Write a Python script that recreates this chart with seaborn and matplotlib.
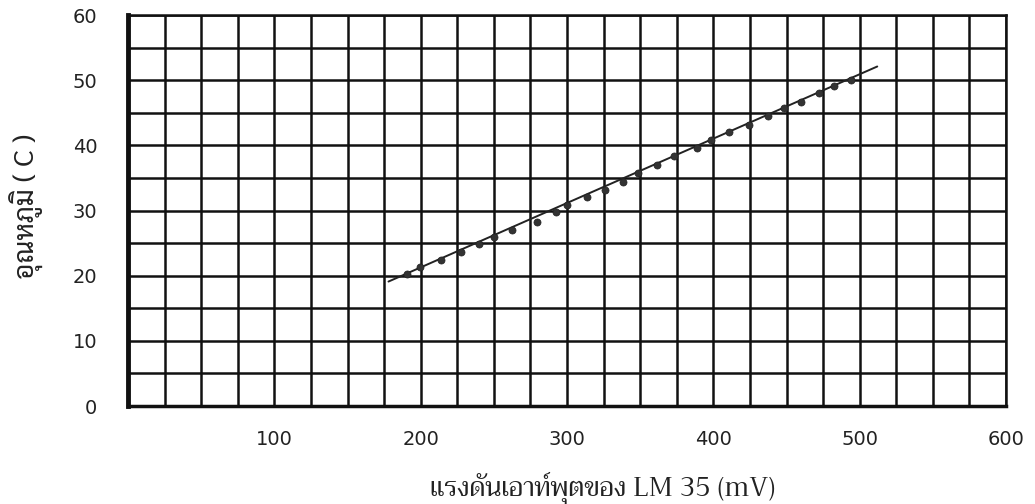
import numpy as np
import matplotlib
matplotlib.use("Agg")
import matplotlib.pyplot as plt
import seaborn as sns
import pandas as pd

################################################
#  data
################################################
voltage_mv = [190.4, 199.5, 213.9, 227.6, 239.9, 250.3, 262.2, 279.3, 292.3,
              299.8, 313.9, 326.0, 338.5, 348.3, 361.3, 373.3, 388.6, 398.4,
              410.7, 424.4, 437.1, 448.5, 459.7, 472.4, 482.7, 493.9]
temp_c = [20.25, 21.4, 22.4, 23.7, 24.9, 26.0, 27.0, 28.3, 29.8,
          30.8, 32.0, 33.1, 34.4, 35.7, 37.0, 38.3, 39.6, 40.8,
          42.1, 43.2, 44.5, 45.8, 46.7, 48.0, 49.1, 50.1]
# end points of the drawn straight line
fit_mv = [178, 512]
fit_temp = [19.1, 52.1]

xticks = [100, 200, 300, 400, 500, 600]
yticks = [0, 10, 20, 30, 40, 50, 60]

xlabel = "แรงดันเอาท์พุตของ LM 35 (mV)"
ylabel = "อุณหภูมิ ( C )"

################################################
#  plot
################################################
sns.set_style("white")
plt.rcParams["font.family"] = ["DejaVu Sans"]

df = pd.DataFrame({"mv": voltage_mv, "temp": temp_c})
df_fit = pd.DataFrame({"mv": fit_mv, "temp": fit_temp})

fig = plt.figure(figsize=(10.35, 5.04), dpi=100)
ax = fig.add_axes([0.1237, 0.1944, 0.8483, 0.7758])

# grid paper : 25 mV x 5 C
ax.set_xticks(np.arange(0, 601, 25), minor=True)
ax.set_yticks(np.arange(0, 61, 5), minor=True)
ax.set_xticks(xticks)
ax.set_yticks(yticks)
ax.grid(True, which="both", color="#111111", linewidth=1.8)
ax.set_axisbelow(True)

sns.lineplot(data=df_fit, x="mv", y="temp", color="#222222", linewidth=1.4, ax=ax)
sns.scatterplot(data=df, x="mv", y="temp", color="#333333", s=26,
                edgecolor="#222222", linewidth=0.5, zorder=5, ax=ax)

ax.set_xlim(0, 600)
ax.set_ylim(0, 60)
ax.tick_params(which="both", length=0)
ax.tick_params(axis="x", labelsize=14, pad=17, colors="#222222")
ax.tick_params(axis="y", labelsize=14, pad=22, colors="#222222")

for s in ["top", "right"]:
    ax.spines[s].set_linewidth(1.8)
    ax.spines[s].set_color("#111111")
ax.spines["left"].set_linewidth(3.5)
ax.spines["bottom"].set_linewidth(2.5)
ax.spines["left"].set_color("#111111")
ax.spines["bottom"].set_color("#111111")

ax.set_xlabel("")
ax.set_ylabel("")
fig.text(0.582, 0.03, xlabel, ha="center", va="center", fontsize=19,
         family=["Trirong", "DejaVu Sans"], color="#222222")
fig.text(0.026, 0.59, ylabel, ha="center", va="center", rotation=90, fontsize=20,
         family=["Sarabun", "DejaVu Sans"], color="#222222")

fig.savefig("out.png", dpi=100)
